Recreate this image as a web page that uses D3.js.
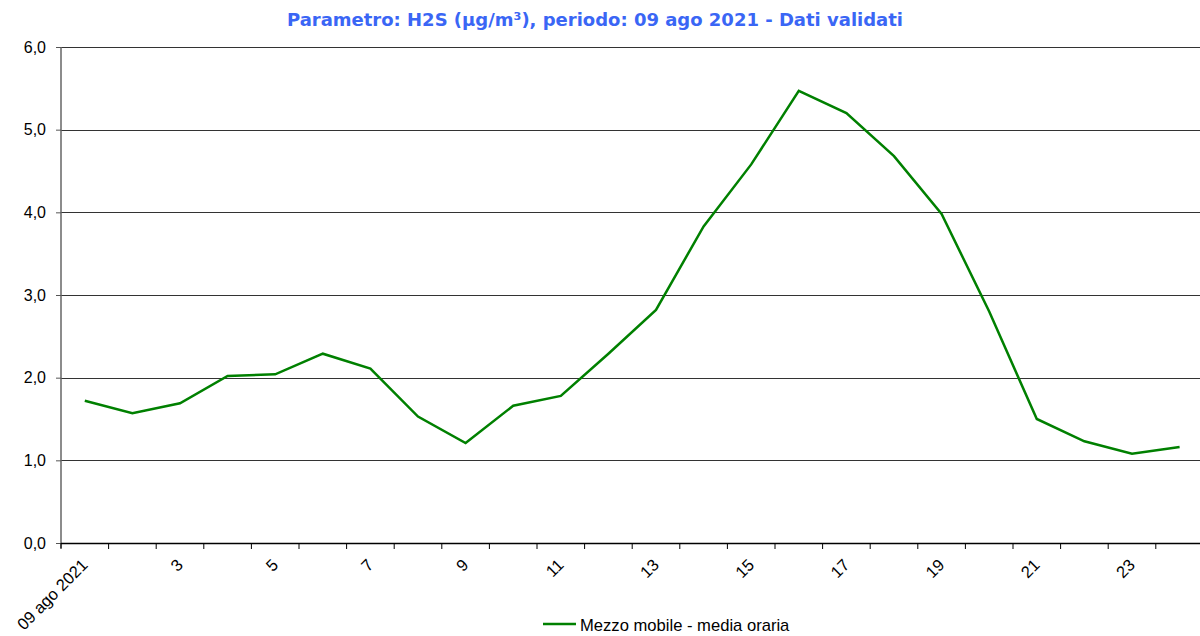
<!DOCTYPE html>
<html><head><meta charset="utf-8">
<script src="https://cdn.jsdelivr.net/npm/d3@7"></script>
<style>
html,body{margin:0;padding:0;background:#fff;}
svg{display:block;}
</style></head>
<body>
<svg id="chart" width="1200" height="636"></svg>
<script>
const title = "Parametro: H2S (µg/m³), periodo: 09 ago 2021  - Dati validati";
const hours = d3.range(1, 25);
const tickLabels = ["09 ago 2021","","3","","5","","7","","9","","11","","13","","15","","17","","19","","21","","23",""];
const values = [1.72,1.57,1.69,2.02,2.04,2.29,2.11,1.53,1.21,1.66,1.78,2.29,2.82,3.83,4.58,5.47,5.20,4.68,3.98,2.80,1.50,1.23,1.08,1.16];
const yTicks = [0,1,2,3,4,5,6];
const seriesName = "Mezzo mobile - media oraria";

(function(){
const svg = d3.select("#chart");
const FONT = "'Liberation Sans', Arial, sans-serif";
const mLeft = 61, mRight = 1203.4, mTop = 47, mBottom = 543;

const x = d3.scaleBand().domain(hours).range([mLeft, mRight]).padding(0);
const y = d3.scaleLinear().domain([0, 6]).range([mBottom, mTop]);
const fmt = v => d3.format(".1f")(v).replace(".", ",");

// gridlines
svg.append("g").selectAll("line").data(yTicks.filter(t => t > 0)).join("line")
  .attr("x1", mLeft).attr("x2", mRight)
  .attr("y1", d => Math.round(y(d)) + 0.5).attr("y2", d => Math.round(y(d)) + 0.5)
  .attr("stroke", "#333").attr("stroke-width", 1);

// y axis
const yAxis = svg.append("g").attr("transform", `translate(${mLeft},0)`)
  .call(d3.axisLeft(y).tickValues(yTicks).tickFormat(fmt).tickSize(5).tickPadding(10));
yAxis.select(".domain").attr("stroke", "#666").attr("stroke-width", 1.5).attr("d", `M0,${mTop}V${mBottom + 5}`);
yAxis.selectAll(".tick line").attr("stroke", "#555");
yAxis.selectAll(".tick text").style("font-size", "16px").style("font-family", FONT).attr("fill", "#000");

// x axis
const xAxis = svg.append("g").attr("transform", `translate(0,${mBottom})`);
xAxis.append("line").attr("x1", mLeft).attr("x2", mRight).attr("y1", 0.5).attr("y2", 0.5).attr("stroke", "#000").attr("stroke-width", 1.5);
const boundaries = hours.map(h => x(h)).concat([mRight]);
xAxis.selectAll("line.tk").data(boundaries).join("line").attr("class", "tk")
  .attr("x1", d => d).attr("x2", d => d).attr("y1", 0).attr("y2", 6)
  .attr("stroke", "#000").attr("stroke-width", 1);
xAxis.selectAll("text.lb").data(hours.map((h, i) => ({h, l: tickLabels[i]})).filter(d => d.l)).join("text")
  .attr("class", "lb")
  .attr("transform", d => `translate(${x(d.h) + x.bandwidth() / 2 + 4},${23}) rotate(-45)`)
  .attr("text-anchor", "end")
  .style("font-size", "16.5px").style("font-family", FONT).attr("fill", "#000")
  .text(d => d.l);

// line
const line = d3.line().x((d, i) => x(hours[i]) + x.bandwidth() / 2).y(d => y(d));
svg.append("path").datum(values).attr("d", line)
  .attr("fill", "none").attr("stroke", "#008000").attr("stroke-width", 2.5).attr("stroke-linejoin", "miter");

// title
svg.append("text").attr("x", 595).attr("y", 26).attr("text-anchor", "middle")
  .style("font-family", "'DejaVu Sans Condensed', 'DejaVu Sans', Verdana, sans-serif").style("font-weight", "bold")
  .style("font-size", "18px").attr("fill", "#3a66f5")
  .attr("textLength", 616).attr("lengthAdjust", "spacingAndGlyphs")
  .text(title);

// legend
const lg = svg.append("g").attr("transform", "translate(543,624)");
lg.append("line").attr("x1", 0).attr("x2", 33).attr("y1", 0).attr("y2", 0).attr("stroke", "#008000").attr("stroke-width", 2.5);
lg.append("text").attr("x", 37).attr("y", 7).style("font-size", "16.6px").style("font-family", FONT).attr("fill", "#000").text(seriesName);
})();
</script>
</body></html>
